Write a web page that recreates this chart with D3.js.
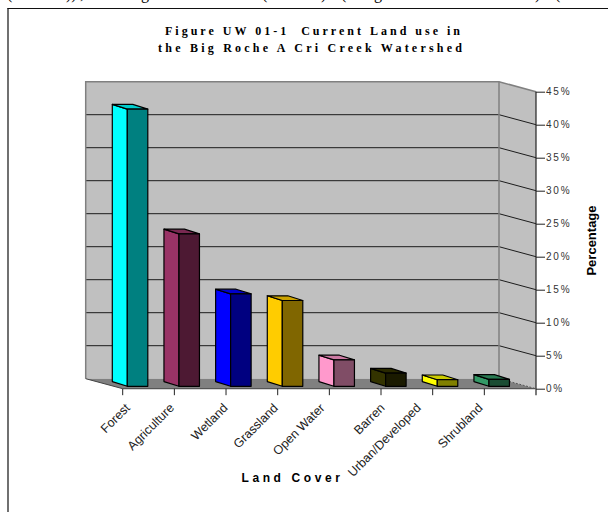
<!DOCTYPE html>
<html>
<head>
<meta charset="utf-8">
<script src="https://cdn.jsdelivr.net/npm/d3@7/dist/d3.min.js"></script>
<style>
html,body{margin:0;padding:0;background:#fff;}
svg{display:block;}
.sans{font-family:"Liberation Sans",Arial,sans-serif;}
.serif{font-family:"Liberation Serif","Times New Roman",serif;}
</style>
</head>
<body>
<svg id="chart" width="608" height="512"></svg>
<script>
// Land cover shares for the watershed, in percent
const categories = ["Forest","Agriculture","Wetland","Grassland","Open Water","Barren","Urban/Developed","Shrubland"];
const percentages = [42.0,23.1,14.0,13.0,4.0,2.0,1.0,1.05];
const yTickValues = [0,5,10,15,20,25,30,35,40,45];
const titleLines = ["Figure UW 01-1  Current Land use in","the Big Roche A Cri Creek Watershed"];
const xAxisTitle = "Land Cover";
const yAxisTitle = "Percentage";

// Face colours for each bar: lit side, shaded front, top
const sideColors = ["#00ffff","#993366","#0000ff","#ffcc00","#ff99cc","#333300","#ffff00","#339966"];
const frontColors = ["#008080","#4d1933","#000080","#806600","#804d66","#1a1a00","#808000","#1a4d33"];
const topColors = ["#00cccc","#7a2952","#0000cc","#cca300","#cc7aa3","#292900","#cccc00","#297a52"];

// Horizontal nudge for each rotated category label
const labelNudge = [2,-5.5,-3.5,-5,-10,-1.5,-17,-7];

// Running text fragments along the top edge of the sheet
const clippedText = [["(",7],["))",66],[",",80],["g",141],["(",262],[")",321],["(",341],["g",374],[")",535],["(",555]];

const svg = d3.select("#chart");

// Oblique projection: the back wall sits up and to the left of the axis plane
const depthX = 37, depthY = 10;
const x = d3.scaleBand().domain(categories).range([122.7,536]);
const y = d3.scaleLinear().domain([0,45]).range([388.7,91.7]);

// Bar solid placement inside a band
const frontInset = 4.6, frontWidth = 20.5, sideDX = 15, sideDY = 4.7, frontLift = 2.4;

const poly = pts => pts.map(p => p.join(",")).join(" ");

// Sheet frame: top rule and left rule only
svg.append("line").attr("x1",7.5).attr("x2",608).attr("y1",8.5).attr("y2",8.5).attr("stroke","#111").attr("stroke-width",1.2);
svg.append("line").attr("x1",8).attr("x2",8).attr("y1",8).attr("y2",512).attr("stroke","#111").attr("stroke-width",1.2);

svg.append("g").attr("class","serif").attr("fill","#000").attr("font-size",16)
  .selectAll("text").data(clippedText).join("text")
  .attr("x",d=>d[1]).attr("y",-1).text(d=>d[0]);

// Back wall, right wall, floor
const xL = x.range()[0], xR = x.range()[1], y0 = y(0), yT = y(45);
svg.append("polygon").attr("points",poly([[xL-depthX,yT-depthY],[xR-depthX,yT-depthY],[xR-depthX,y0-depthY],[xL-depthX,y0-depthY]]))
  .attr("fill","#c0c0c0");
svg.append("polygon").attr("points",poly([[xR-depthX,yT-depthY],[xR,yT],[xR,y0],[xR-depthX,y0-depthY]]))
  .attr("fill","#c0c0c0");
svg.append("polygon").attr("points",poly([[xL-depthX,y0-depthY],[xR-depthX,y0-depthY],[xR,y0],[xL,y0]]))
  .attr("fill","#808080");

// Gridlines run across the back wall, then down the right wall to the axis
svg.append("g").selectAll("polyline").data(yTickValues.filter(v=>v>0&&v<45)).join("polyline")
  .attr("points",v=>poly([[xL-depthX,y(v)-depthY],[xR-depthX,y(v)-depthY],[xR,y(v)]]))
  .attr("fill","none").attr("stroke","#1c1c1c").attr("stroke-width",1);

// Wall outlines
svg.append("polyline").attr("points",poly([[xL-depthX,y0-depthY],[xL-depthX,yT-depthY],[xR-depthX,yT-depthY],[xR,yT]]))
  .attr("fill","none").attr("stroke","#808080").attr("stroke-width",1.5);
svg.append("line").attr("x1",xR-depthX).attr("x2",xR-depthX).attr("y1",yT-depthY).attr("y2",y0-depthY)
  .attr("stroke","#808080").attr("stroke-width",1.5);
svg.append("line").attr("x1",xR-depthX).attr("x2",xR).attr("y1",y0-depthY).attr("y2",y0)
  .attr("stroke","#555").attr("stroke-dasharray","2,1.5");
svg.append("line").attr("x1",xL-depthX).attr("x2",xL).attr("y1",y0-depthY).attr("y2",y0).attr("stroke","#444");

// Bars
const barScale = v => y(v) - y(0);
const bars = svg.append("g").selectAll("g").data(categories).join("g")
  .attr("stroke","#000").attr("stroke-width",1.2).attr("stroke-linejoin","round");
bars.each(function(c,i){
  const g = d3.select(this);
  const x0 = x(c)+frontInset, x1 = x0+frontWidth;
  const yB = y0-frontLift, yTop = yB+barScale(percentages[i]);
  g.append("polygon").attr("fill",sideColors[i])
    .attr("points",poly([[x0-sideDX,yB-sideDY],[x0,yB],[x0,yTop],[x0-sideDX,yTop-sideDY]]));
  g.append("polygon").attr("fill",topColors[i])
    .attr("points",poly([[x0-sideDX,yTop-sideDY],[x1-sideDX,yTop-sideDY],[x1,yTop],[x0,yTop]]));
  g.append("rect").attr("fill",frontColors[i]).attr("x",x0).attr("y",yTop).attr("width",frontWidth).attr("height",yB-yTop);
});

// Value axis on the right
const yAxis = svg.append("g").attr("class","sans").attr("transform",`translate(${xR},0)`)
  .call(d3.axisRight(y).tickValues(yTickValues).tickFormat(d=>d+"%").tickSize(9).tickPadding(1));
yAxis.selectAll("path").remove();
yAxis.selectAll("line").attr("stroke","#222");
yAxis.selectAll("text").attr("font-size",10).attr("letter-spacing",1.8).attr("fill","#333");
svg.append("line").attr("x1",xR).attr("x2",xR).attr("y1",yT).attr("y2",y0+6.5).attr("stroke","#222").attr("stroke-width",1.2);

// Category axis: ticks sit on band edges, labels rotated 45 degrees
svg.append("line").attr("x1",xL).attr("x2",xR).attr("y1",y0).attr("y2",y0).attr("stroke","#555").attr("stroke-width",1.2);
svg.append("g").selectAll("line").data(categories).join("line")
  .attr("x1",c=>x(c)).attr("x2",c=>x(c)).attr("y1",y0).attr("y2",y0+6.5).attr("stroke","#222");
svg.append("g").attr("class","sans").selectAll("text").data(categories).join("text")
  .attr("text-anchor","end").attr("font-size",12.5).attr("fill","#222")
  .attr("transform",(c,i)=>`translate(${x(c)+6+labelNudge[i]},${y0+20}) rotate(-45)`)
  .text(c=>c);

// Titles
const titleWidths = [295,304];
svg.append("g").attr("class","serif").attr("font-weight","bold").attr("font-size",12).attr("fill","#000")
  .attr("text-anchor","middle")
  .selectAll("text").data(titleLines).join("text")
  .attr("x",(d,i)=>i?310:312.5).attr("y",(d,i)=>35+i*17.3).style("white-space","pre")
  .attr("textLength",(d,i)=>titleWidths[i]).attr("lengthAdjust","spacing").text(d=>d);

svg.append("text").attr("class","sans").attr("x",292.5).attr("y",481.5).attr("text-anchor","middle")
  .attr("font-weight","bold").attr("font-size",12).attr("letter-spacing",3.6).attr("fill","#000").text(xAxisTitle);
svg.append("text").attr("class","sans").attr("transform","translate(596,240.5) rotate(-90)").attr("text-anchor","middle")
  .attr("font-weight","bold").attr("font-size",13).attr("fill","#000").text(yAxisTitle);
</script>
</body>
</html>
